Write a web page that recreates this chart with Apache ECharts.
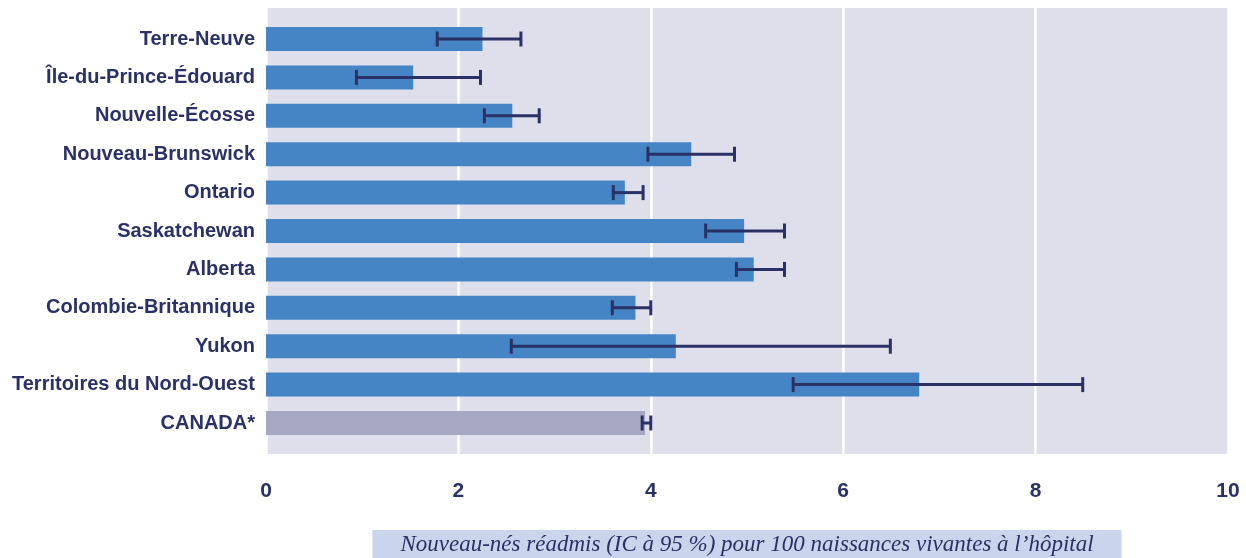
<!DOCTYPE html>
<html>
<head>
<meta charset="utf-8">
<script src="https://cdn.jsdelivr.net/npm/echarts@6/dist/echarts.min.js"></script>
<style>
  html, body { margin: 0; padding: 0; background: #ffffff; }
  #chart { width: 1246px; height: 558px; }
</style>
</head>
<body>
<div id="chart"></div>
<script>
// Provinces / territories, top to bottom
const categories = [
  'Terre-Neuve',
  'Île-du-Prince-Édouard',
  'Nouvelle-Écosse',
  'Nouveau-Brunswick',
  'Ontario',
  'Saskatchewan',
  'Alberta',
  'Colombie-Britannique',
  'Yukon',
  'Territoires du Nord-Ouest',
  'CANADA*'
];
// Readmitted newborns per 100 live hospital births
const rates = [2.25, 1.53, 2.56, 4.42, 3.73, 4.97, 5.07, 3.84, 4.26, 6.79, 3.94];
// 95% confidence interval bounds
const ciLow  = [1.78, 0.94, 2.27, 3.97, 3.61, 4.57, 4.89, 3.60, 2.55, 5.48, 3.91];
const ciHigh = [2.65, 2.23, 2.84, 4.87, 3.92, 5.39, 5.39, 4.00, 6.49, 8.49, 4.00];
const xTicks = [0, 2, 4, 6, 8, 10];
const axisTitle = 'Nouveau-nés réadmis (IC à 95 %) pour 100 naissances vivantes à l’hôpital';

const NAVY = '#2a3166';
const BAR = '#4585c5';
const BAR_TOTAL = '#a6a8c4';

const chart = echarts.init(document.getElementById('chart'), null, { renderer: 'canvas' });

const barData = rates.map((v, i) => ({
  value: v,
  itemStyle: { color: categories[i] === 'CANADA*' ? BAR_TOTAL : BAR }
}));
const ciData = categories.map((c, i) => [i, ciLow[i], ciHigh[i]]);

chart.setOption({
  animation: false,
  grid: [
    // panel with shaded background and white vertical gridlines
    { left: 266, right: 18, top: 8, bottom: 104, show: true,
      backgroundColor: '#dedfea', borderWidth: 0,
      containLabel: false, outerBoundsMode: 'none' },
    // bars and labels
    { left: 266, right: 18, top: 19.8, height: 422.4, show: false,
      containLabel: false, outerBoundsMode: 'none' }
  ],
  xAxis: [
    {
      gridIndex: 0, type: 'value', min: 0, max: 10, interval: 2,
      axisLine: { show: false }, axisTick: { show: false },
      splitLine: { show: true, lineStyle: { color: '#ffffff', width: 2.5 } },
      axisLabel: {
        margin: 27, color: NAVY, fontSize: 21, fontWeight: 'bold',
        fontFamily: 'Liberation Sans',
        formatter: v => (xTicks.indexOf(v) >= 0 ? String(v) : '')
      },
      name: axisTitle,
      nameLocation: 'middle',
      nameGap: 76,
      nameTextStyle: {
        color: NAVY, fontSize: 23, fontStyle: 'italic',
        fontFamily: 'Liberation Serif',
        backgroundColor: '#c9d5ec',
        padding: [4, 28, 2, 28], lineHeight: 22
      }
    },
    { gridIndex: 1, type: 'value', min: 0, max: 10, show: false }
  ],
  yAxis: [
    { gridIndex: 0, type: 'value', show: false },
    {
      gridIndex: 1, type: 'category', data: categories, inverse: true,
      axisLine: { show: false }, axisTick: { show: false },
      axisLabel: {
        margin: 11, color: NAVY, fontSize: 20, fontWeight: 'bold',
        fontFamily: 'Liberation Sans', padding: [3, 0, 0, 0]
      }
    }
  ],
  series: [
    {
      type: 'bar', xAxisIndex: 1, yAxisIndex: 1,
      data: barData, barWidth: 24, z: 2
    },
    {
      type: 'custom', xAxisIndex: 1, yAxisIndex: 1, z: 5,
      data: ciData,
      renderItem: (params, api) => {
        const cat = api.value(0);
        const lo = api.coord([api.value(1), cat]);
        const hi = api.coord([api.value(2), cat]);
        const half = 7.5;
        const style = { stroke: NAVY, lineWidth: 3, fill: null };
        const cap = Object.assign({}, style, { lineWidth: 3 });
        return {
          type: 'group',
          children: [
            { type: 'line', shape: { x1: lo[0], y1: lo[1], x2: hi[0], y2: hi[1] }, style },
            { type: 'line', shape: { x1: lo[0], y1: lo[1] - half, x2: lo[0], y2: lo[1] + half }, style: cap },
            { type: 'line', shape: { x1: hi[0], y1: hi[1] - half, x2: hi[0], y2: hi[1] + half }, style: cap }
          ]
        };
      }
    }
  ]
});
</script>
</body>
</html>
